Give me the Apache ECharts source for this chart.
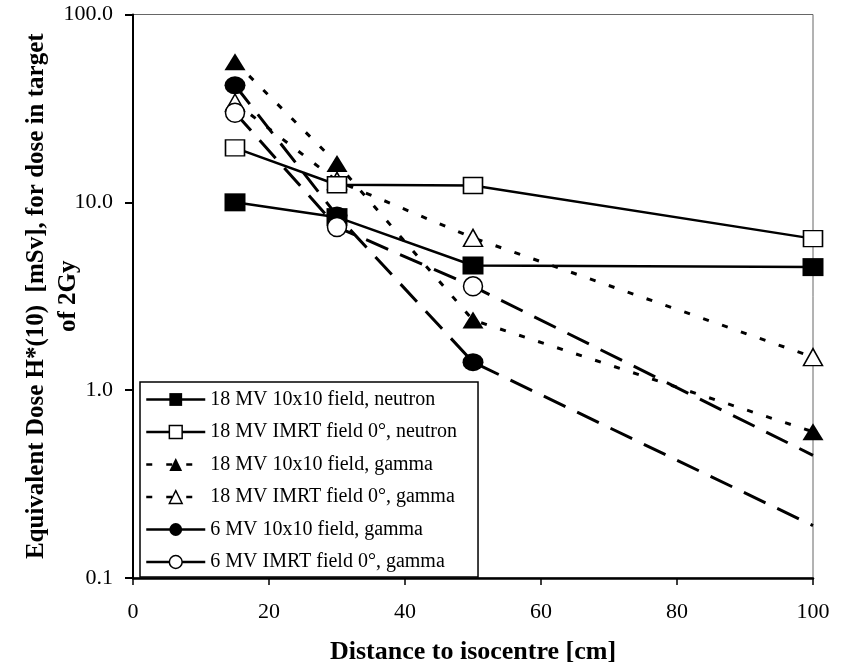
<!DOCTYPE html>
<html>
<head>
<meta charset="utf-8">
<script src="https://cdn.jsdelivr.net/npm/echarts@6/dist/echarts.min.js"></script>
<style>
html,body{margin:0;padding:0;background:#fff;}
#chart{width:842px;height:665px;}
</style>
</head>
<body>
<div id="chart"></div>
<script>
// ---- data ----
const distances = [15, 30, 50, 100];
const mv18Field10x10Neutron = [10.0, 8.34, 4.61, 4.52];
const mv18ImrtNeutron = [19.5, 12.4, 12.3, 6.41];
const mv18Field10x10Gamma = [56, 16.1, 2.36, 0.60];
const mv18ImrtGamma = [34, 13.0, 6.47, 1.50];
const mv6Field10x10Gamma = [42, 8.5, 1.41, 0.19];
const mv6ImrtGamma = [30, 7.39, 3.57, 0.45];
const seriesNames = [
  '18 MV 10x10 field, neutron',
  '18 MV IMRT field 0°, neutron',
  '18 MV 10x10 field, gamma',
  '18 MV IMRT field 0°, gamma',
  '6 MV 10x10 field, gamma',
  '6 MV IMRT field 0°, gamma'
];
const xTickValues = [0, 20, 40, 60, 80, 100];
const yTickValues = [0.1, 1, 10, 100];
const yTickLabels = ['0.1', '1.0', '10.0', '100.0'];
const xTitle = 'Distance to isocentre [cm]';
const yTitle = 'Equivalent Dose H*(10)  [mSv], for dose in target\nof 2Gy';

// ---- build ----
const FONT = 'Liberation Serif';
function pairs(vals, noMarkerLast) {
  return vals.map((v, i) => {
    const item = { value: [distances[i], v] };
    if (noMarkerLast && i === vals.length - 1) item.symbol = 'none';
    return item;
  });
}
const solid = { color: '#000', width: 2.5, type: 'solid' };
const dotted = { color: '#000', width: 3, type: [6, 14] };
const dashed = { color: '#000', width: 3, type: [24, 13] };
const filled = { color: '#000', borderColor: '#000', borderWidth: 0 };
const open = { color: '#fff', borderColor: '#000', borderWidth: 1.5 };

const defs = [
  { vals: mv18Field10x10Neutron, symbol: 'rect', size: [21, 18], line: solid, item: filled, z: 4 },
  { vals: mv18ImrtNeutron, symbol: 'rect', size: [19, 16], line: solid, item: open, z: 4 },
  { vals: mv18Field10x10Gamma, symbol: 'triangle', size: [21, 17], line: dotted, item: filled, z: 3 },
  { vals: mv18ImrtGamma, symbol: 'triangle', size: [19, 17], line: dotted, item: open, z: 3 },
  { vals: mv6Field10x10Gamma, symbol: 'circle', size: [21, 18], line: dashed, item: filled, z: 2, trail: true },
  { vals: mv6ImrtGamma, symbol: 'circle', size: [19, 19], line: dashed, item: open, z: 5, trail: true }
];

const series = defs.map((d, i) => ({
  name: seriesNames[i],
  type: 'line',
  data: pairs(d.vals, d.trail),
  symbol: d.symbol,
  symbolSize: d.size,
  showAllSymbol: true,
  lineStyle: d.line,
  itemStyle: d.item,
  z: d.z,
  emphasis: { disabled: true },
  animation: false
}));

const legendData = defs.map((d, i) => ({
  name: seriesNames[i],
  itemStyle: Object.assign({}, d.item),
  lineStyle: d.trail ? { color: '#000', width: 2.5, type: 'solid' } : Object.assign({}, d.line, { width: 2.5 })
}));

const chart = echarts.init(document.getElementById('chart'), null, { renderer: 'canvas' });
chart.setOption({
  backgroundColor: '#fff',
  animation: false,
  grid: {
    left: 133, right: 29, top: 14.5, bottom: 87,
    outerBoundsMode: 'none',
    containLabel: false,
    show: true, borderColor: '#666', borderWidth: 1, backgroundColor: 'transparent'
  },
  xAxis: {
    type: 'value',
    min: xTickValues[0], max: xTickValues[xTickValues.length - 1],
    interval: xTickValues[1] - xTickValues[0],
    axisLine: { show: true, onZero: false, lineStyle: { color: '#000', width: 2.5 } },
    axisTick: { show: true, inside: false, length: 7, lineStyle: { color: '#000', width: 1.5 } },
    splitLine: { show: false },
    axisLabel: { color: '#000', fontFamily: FONT, fontSize: 22, margin: 23 },
    name: xTitle,
    nameLocation: 'middle',
    nameGap: 61,
    nameMoveOverlap: false,
    nameTextStyle: { color: '#000', fontFamily: FONT, fontSize: 26, fontWeight: 'bold' }
  },
  yAxis: {
    type: 'log',
    logBase: 10,
    min: yTickValues[0], max: yTickValues[yTickValues.length - 1],
    axisLine: { show: true, onZero: false, lineStyle: { color: '#000', width: 2 } },
    axisTick: { show: true, inside: false, length: 8, lineStyle: { color: '#000', width: 2 } },
    minorTick: { show: false },
    splitLine: { show: false },
    axisLabel: {
      color: '#000', fontFamily: FONT, fontSize: 22, margin: 20,
      formatter: function (v) {
        let best = 0;
        for (let i = 0; i < yTickValues.length; i++) {
          if (Math.abs(Math.log10(v) - Math.log10(yTickValues[i])) < Math.abs(Math.log10(v) - Math.log10(yTickValues[best]))) best = i;
        }
        return yTickLabels[best];
      }
    },
    name: yTitle,
    nameLocation: 'middle',
    nameRotate: 90,
    nameGap: 48,
    nameMoveOverlap: false,
    nameTextStyle: { color: '#000', fontFamily: FONT, fontSize: 25, fontWeight: 'bold', lineHeight: 32, align: 'center' }
  },
  legend: {
    show: true,
    orient: 'vertical',
    left: 140, top: 382,
    padding: [7.5, 21, 5, 5],
    itemWidth: 59, itemHeight: 16, itemGap: 12.5,
    borderColor: '#000', borderWidth: 1.5,
    backgroundColor: '#fff',
    selectedMode: false,
    textStyle: { color: '#000', fontFamily: FONT, fontSize: 20 },
    data: legendData,
    z: 10
  },
  series: series
});
</script>
</body>
</html>
